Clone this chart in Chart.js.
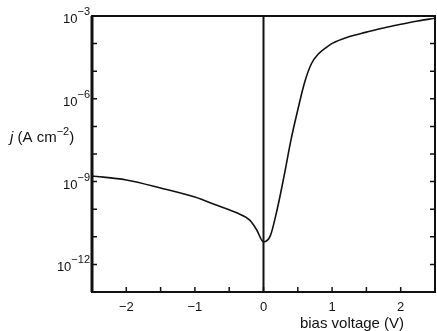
<!DOCTYPE html>
<html>
<head>
<meta charset="utf-8">
<script src="https://cdn.jsdelivr.net/npm/chart.js@4.4.1/dist/chart.umd.min.js"></script>
<style>
  html, body { margin: 0; padding: 0; background: #fff; }
  #wrap { width: 437px; height: 331px; }
</style>
</head>
<body>
<div id="wrap"><canvas id="jv-chart"></canvas></div>
<script>
// bias voltage (V) and current density j (A cm^-2)
const biasVoltage = [-2.5, -2, -1.5, -1, -0.7, -0.4, -0.2, -0.1, 0, 0.1, 0.2, 0.3, 0.4, 0.5, 0.6, 0.7, 0.8, 0.9, 1.0, 1.25, 1.5, 1.75, 2.0, 2.25, 2.5];
const currentDensity = [1.6e-9, 1.15e-9, 5.9e-10, 2.75e-10, 1.45e-10, 7.6e-11, 4e-11, 1.8e-11, 6.5e-12, 1.1e-11, 1e-10, 1.6e-9, 3.2e-8, 4e-7, 4e-6, 1.9e-5, 4.2e-5, 6.8e-5, 1.02e-4, 1.8e-4, 2.6e-4, 3.7e-4, 5e-4, 6.6e-4, 8.3e-4];
const xTickLabels = [-2, -1, 0, 1, 2];
const yLabelExponents = [-3, -6, -9, -12];

const FONT = '"Liberation Sans", Arial, sans-serif';

const framePlugin = {
    id: 'frame',
    afterDraw(chart) {
        const { ctx, chartArea: a, scales: { x, y } } = chart;
        ctx.save();
        ctx.strokeStyle = '#111';
        ctx.lineWidth = 2;
        ctx.strokeRect(a.left, a.top, a.right - a.left, a.bottom - a.top);
        // thicker left axis
        ctx.lineWidth = 3;
        ctx.beginPath();
        ctx.moveTo(a.left, a.top);
        ctx.lineTo(a.left, a.bottom);
        ctx.stroke();
        // zero bias line
        const x0 = x.getPixelForValue(0);
        ctx.lineWidth = 2;
        ctx.beginPath();
        ctx.moveTo(x0, a.top);
        ctx.lineTo(x0, a.bottom);
        ctx.stroke();

        // inward tick marks
        ctx.lineWidth = 1.5;
        ctx.beginPath();
        for (let e = -13; e <= -3; e++) {
            const py = y.getPixelForValue(Math.pow(10, e));
            ctx.moveTo(a.left, py); ctx.lineTo(a.left + 5, py);
            ctx.moveTo(a.right - 5, py); ctx.lineTo(a.right, py);
        }
        for (let v = -2; v <= 2; v += 0.5) {
            const px = x.getPixelForValue(v);
            ctx.moveTo(px, a.bottom); ctx.lineTo(px, a.bottom - 5);
        }
        ctx.stroke();

        // y labels 10^n
        ctx.fillStyle = '#111';
        ctx.textBaseline = 'alphabetic';
        yLabelExponents.forEach(e => {
            const py = y.getPixelForValue(Math.pow(10, e));
            const exp = '\u2212' + Math.abs(e);
            ctx.font = '11px ' + FONT;
            const we = ctx.measureText(exp).width;
            const xr = a.left - 2;
            ctx.textAlign = 'right';
            ctx.fillText(exp, xr, py - 1);
            ctx.font = '13px ' + FONT;
            ctx.fillText('10', xr - we, py + 7);
        });

        // y title
        let tx = 10;
        const ty = 142;
        ctx.textAlign = 'left';
        ctx.font = 'italic 15px ' + FONT;
        ctx.fillText('j', tx, ty);
        tx += ctx.measureText('j').width;
        ctx.font = '15px ' + FONT;
        ctx.fillText(' (A cm', tx, ty);
        tx += ctx.measureText(' (A cm').width;
        ctx.font = '11px ' + FONT;
        ctx.fillText('\u22122', tx, ty - 7);
        tx += ctx.measureText('\u22122').width;
        ctx.font = '15px ' + FONT;
        ctx.fillText(')', tx, ty);

        // x title
        ctx.textAlign = 'center';
        ctx.font = '15px ' + FONT;
        ctx.fillText('bias voltage (V)', 352, 328);
        ctx.restore();
    }
};

const ctx = document.getElementById('jv-chart').getContext('2d');
new Chart(ctx, {
    type: 'line',
    data: {
        datasets: [{
            data: biasVoltage.map((v, i) => ({ x: v, y: currentDensity[i] })),
            borderColor: '#111',
            borderWidth: 1.6,
            pointRadius: 0,
            cubicInterpolationMode: 'monotone',
            fill: false
        }]
    },
    options: {
        responsive: true,
        maintainAspectRatio: false,
        animation: false,
        layout: { padding: { left: 0, right: 2, top: 16, bottom: 0 } },
        plugins: { legend: { display: false }, tooltip: { enabled: false } },
        scales: {
            x: {
                type: 'linear',
                min: -2.5,
                max: 2.5,
                afterBuildTicks: (scale) => {
                    scale.ticks = xTickLabels.map(v => ({ value: v }));
                },
                afterFit: (scale) => { scale.height = 39; },
                grid: { display: false },
                border: { display: false },
                ticks: {
                    padding: 0,
                    color: '#111',
                    font: { family: FONT, size: 13 },
                    callback: (v) => v < 0 ? '\u2212' + Math.abs(v) : String(v)
                }
            },
            y: {
                type: 'logarithmic',
                min: 1e-13,
                max: 1e-3,
                afterFit: (scale) => { scale.width = 92; },
                grid: { display: false },
                border: { display: false },
                ticks: { display: false }
            }
        }
    },
    plugins: [framePlugin]
});
</script>
</body>
</html>
